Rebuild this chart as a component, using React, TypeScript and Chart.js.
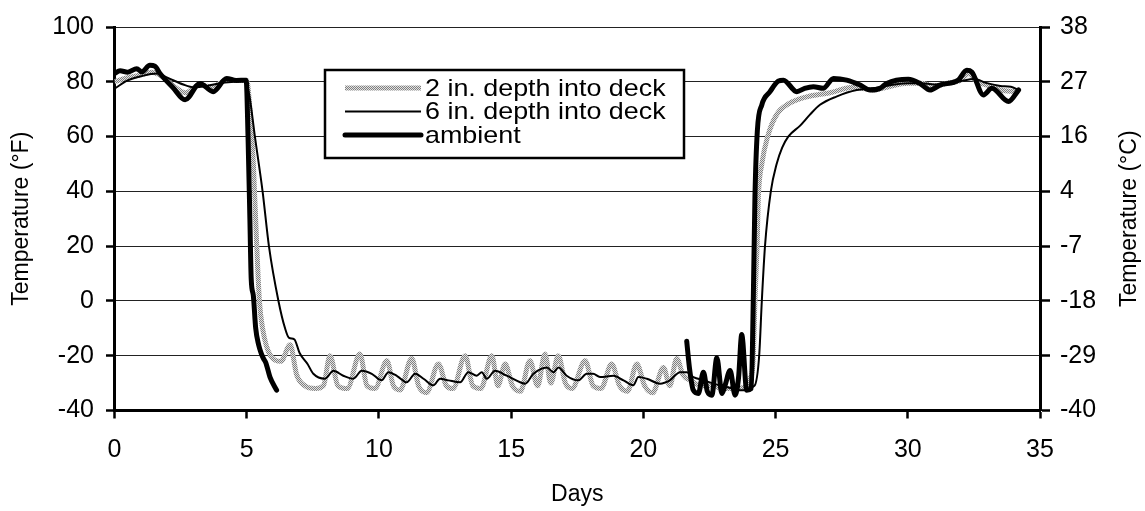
import React, { useEffect, useRef } from "react";
import { Chart, registerables } from "chart.js";

Chart.register(...registerables);

// ---- data (days, °F) ----
const ambientDays = [0, 0.21, 0.5, 0.84, 1.03, 1.34, 1.53, 1.72, 2.2, 2.67, 3.23, 3.73, 4.24, 4.6, 4.98, 5.05, 5.12, 5.17, 5.25, 5.34, 5.45, 5.56, 5.63, 5.72, 5.88, 6.13,
  13,
  21.64, 21.75, 21.89, 22.08, 22.27, 22.42, 22.59, 22.78, 22.97, 23.09, 23.28, 23.47, 23.6, 23.72, 23.91, 24.08, 24.16, 24.22, 24.31, 24.48, 24.79, 25.1, 25.3, 25.8, 26.1, 26.43, 26.8, 27.19, 27.69, 28.2, 28.57, 28.95, 29.2, 30.02, 30.46, 30.84, 31.22, 31.91, 32.23, 32.42, 32.86, 33.18, 33.81, 34.19];
const ambientTemps = [83, 84, 83.5, 84.8, 83.6, 86, 85.7, 83, 78, 73.4, 79.4, 76.4, 81.2, 80.5, 80.6, 60, 30, 8, 2, -10, -16, -19.4, -21, -22.5, -27.8, -32.6,
  null,
  -14.7, -25, -32.6, -33.8, -26, -33, -34.4, -20.7, -33.8, -30.8, -25.4, -34.4, -28, -12.3, -32.6, -32, 2, 38, 62, 71.6, 76.4, 80.2, 80.6, 76.4, 77.6, 78.2, 77.6, 81.2, 80.6, 78.8, 77, 77.6, 79.4, 80.9, 79.4, 77, 78.8, 80.6, 84.2, 83.6, 75.2, 77.6, 72.8, 77];

const depth6Days = [0, 0.5, 1.0, 1.6, 2.0, 2.6, 3.0, 3.5, 4.0, 4.5, 4.95, 5.1, 5.31, 5.6, 5.84, 6.2, 6.45, 6.6, 6.8, 7.0, 7.3, 7.52, 7.96, 8.28, 8.65, 9.03, 9.35, 9.73, 10.1, 10.36, 10.7, 11.05, 11.37, 11.7, 12.06, 12.31, 12.63, 13.07, 13.38, 13.7, 13.89, 14.08, 14.39, 14.83, 15.34, 15.53, 15.84, 16.35, 16.6, 16.79, 17.1, 17.54, 17.86, 18.1, 18.36, 18.87, 19.25, 19.62, 19.81, 20.13, 20.63, 21.0, 21.39, 21.64, 21.89, 22.3, 22.65, 23.15, 23.66, 24.2, 24.38, 24.48, 24.6, 24.82, 25.04, 25.25, 25.48, 25.93, 26.3, 26.68, 27.3, 28.07, 28.7, 29.5, 30.0, 30.5, 31.0, 31.5, 32.0, 32.5, 33.0, 33.5, 33.9, 34.2];
const depth6Temps = [77.5, 80.5, 82, 83, 81.5, 79, 78, 78.5, 79.5, 80, 80.3, 75, 60, 40, 20, 0, -10, -13.5, -14, -19, -23, -26.6, -28.4, -25.5, -27.3, -28.4, -25.5, -26.6, -29, -26, -27.5, -29.7, -26.6, -28.5, -30.8, -28.4, -29, -29.7, -26, -27.3, -26, -28.4, -25.5, -27.3, -29.7, -30.2, -26.6, -24.3, -26, -24.3, -27.3, -29, -26.6, -26.6, -27.8, -27.3, -29, -30.8, -27.8, -28.4, -30.2, -29, -26, -26, -27.8, -29, -30.2, -31.4, -32.6, -31, -20, 0, 20, 40, 50, 56, 60, 64, 68, 71.6, 74.6, 77, 77.6, 79, 79.5, 79.5, 79, 79.5, 80.2, 81, 79.5, 78.5, 78.2, 77];

const depth2Days = [0, 0.5, 1.0, 1.4, 1.8, 2.3, 2.7, 3.2, 3.7, 4.2, 4.7, 5.0, 5.12, 5.25, 5.38, 5.48, 5.6, 5.9, 6.3, 6.64, 6.89, 7.2, 7.6, 7.9, 8.15, 8.45, 8.8, 9.28, 9.55, 9.85, 10.3, 10.55, 10.8, 11.24, 11.5, 11.8, 12.25, 12.55, 12.8, 13.26, 13.55, 13.85, 14.27, 14.5, 14.77, 15.05, 15.35, 15.71, 16.0, 16.28, 16.5, 16.78, 17.05, 17.3, 17.8, 18.1, 18.4, 18.8, 19.1, 19.4, 19.75, 20.05, 20.35, 20.76, 21.0, 21.26, 21.5, 21.8, 22.2, 22.6, 23.0, 23.5, 23.9, 24.05, 24.15, 24.22, 24.3, 24.35, 24.48, 24.7, 25.04, 25.5, 26.18, 27.06, 27.94, 28.7, 29.2, 30.0, 30.5, 31.0, 31.5, 32.0, 32.3, 32.6, 33.0, 33.5, 34.1];
const depth2Temps = [80, 81.5, 82.5, 83.5, 82, 78, 76, 79, 78, 80.5, 80.5, 80.5, 70, 50, 20, 0, -10, -20, -22, -16, -27, -31, -32, -31, -20, -31, -32, -19.4, -31, -32, -21.8, -31, -32.5, -21, -31, -33.5, -23, -31, -32, -20, -31, -32, -20, -31, -23, -31, -33, -21.8, -31, -19.4, -30, -20, -30, -32, -21.8, -31, -32, -23, -31, -33, -23, -31, -33.5, -24.3, -31, -21, -27, -29, -31, -31, -32, -32, -31, -28, -22, 0, 20, 38, 50, 60, 68, 72, 74.5, 76, 78, 77, 78, 79.5, 79.5, 78.5, 79.5, 80.5, 83, 80, 78.8, 77, 76.4];

const seriesLabels = ["2 in. depth into deck", "6 in. depth into deck", "ambient"];
const xTitle = "Days";
const yTitleLeft = "Temperature (°F)";
const yTitleRight = "Temperature (°C)";
const fMin = -40, fMax = 100, fStep = 20;
const dayMin = 0, dayMax = 35, dayStep = 5;

const FONT = "'Liberation Sans', Arial, sans-serif";

function toPoints(xs: number[], ys: (number | null)[]) {
  return xs.map((x, i) => ({ x, y: ys[i] }));
}

function makeStipple(): CanvasPattern | string {
  const c = document.createElement("canvas");
  c.width = 2; c.height = 2;
  const g = c.getContext("2d");
  if (!g) return "#aaa";
  g.fillStyle = "#e2e2e2"; g.fillRect(0, 0, 2, 2);
  g.fillStyle = "#808080"; g.fillRect(0, 0, 1, 1); g.fillRect(1, 1, 1, 1);
  const ctx2 = document.createElement("canvas").getContext("2d")!;
  return ctx2.createPattern(c, "repeat") || "#aaa";
}

export default function App() {
  const ref = useRef<HTMLCanvasElement | null>(null);
  useEffect(() => {
    if (!ref.current) return;
    const stipple = makeStipple();

    const overlay = {
      id: "overlay",
      afterDraw(chart: any) {
        const { ctx, chartArea: ca } = chart;
        ctx.save();
        // legend box
        const bx = ca.left + 210.5, by = ca.top + 43, bw = 359, bh = 88;
        ctx.fillStyle = "#fff";
        ctx.fillRect(bx, by, bw, bh);
        ctx.lineWidth = 2.5;
        ctx.strokeStyle = "#000";
        ctx.strokeRect(bx, by, bw, bh);
        const rows = [by + 18, by + 41.5, by + 65];
        const styles = [
          { c: stipple, w: 5 },
          { c: "#000", w: 2 },
          { c: "#000", w: 5 },
        ];
        rows.forEach((ry, i) => {
          ctx.beginPath();
          ctx.moveTo(bx + 20, ry);
          ctx.lineTo(bx + 96, ry);
          ctx.strokeStyle = styles[i].c as any;
          ctx.lineWidth = styles[i].w;
          ctx.lineCap = i === 2 ? "round" : "butt";
          ctx.stroke();
          ctx.fillStyle = "#000";
          ctx.textBaseline = "middle";
          ctx.textAlign = "left";
          ctx.font = `24px ${FONT}`;
          ctx.save();
          ctx.translate(bx + 100, ry);
          ctx.scale(1.12, 1);
          ctx.fillText(seriesLabels[i], 0, 1);
          ctx.restore();
        });
        // right axis title
        ctx.save();
        ctx.translate(1130, (ca.top + ca.bottom) / 2);
        ctx.rotate(-Math.PI / 2);
        ctx.fillStyle = "#000";
        ctx.font = `23px ${FONT}`;
        ctx.textAlign = "center";
        ctx.textBaseline = "middle";
        ctx.fillText(yTitleRight, 0, 0);
        ctx.restore();
        ctx.restore();
      },
    };

    const chart = new Chart(ref.current, {
      type: "line",
      data: {
        datasets: [
          {
            label: seriesLabels[2],
            data: toPoints(ambientDays, ambientTemps),
            borderColor: "#000",
            borderWidth: 5,
            pointRadius: 0,
            spanGaps: false,
            cubicInterpolationMode: "monotone",
            borderCapStyle: "round",
            borderJoinStyle: "round",
            yAxisID: "y",
          },
          {
            label: seriesLabels[1],
            data: toPoints(depth6Days, depth6Temps),
            borderColor: "#000",
            borderWidth: 2,
            pointRadius: 0,
            cubicInterpolationMode: "monotone",
            yAxisID: "y",
          },
          {
            label: seriesLabels[0],
            data: toPoints(depth2Days, depth2Temps),
            borderColor: stipple as any,
            borderWidth: 5,
            pointRadius: 0,
            cubicInterpolationMode: "monotone",
            yAxisID: "y",
          },
        ],
      },
      options: {
        animation: false,
        responsive: false,
        devicePixelRatio: 1,
        layout: { padding: { top: 21, left: 0, right: 0, bottom: 0 } },
        plugins: { legend: { display: false }, tooltip: { enabled: false } },
        scales: {
          x: {
            type: "linear",
            min: dayMin,
            max: dayMax,
            ticks: { stepSize: dayStep, color: "#000", font: { family: FONT, size: 25 }, padding: 17, maxRotation: 0 },
            grid: { drawOnChartArea: false, drawTicks: true, tickLength: 8, tickWidth: 2.5, tickColor: "#000" },
            border: { display: true, color: "#000", width: 3 },
            title: { display: true, text: xTitle, color: "#000", font: { family: FONT, size: 23 }, padding: { top: 0, bottom: 3 } },
            afterFit: (s: any) => { s.height = 100.5; },
          },
          y: {
            type: "linear",
            position: "left",
            min: fMin,
            max: fMax,
            ticks: { stepSize: fStep, color: "#000", font: { family: FONT, size: 25 }, padding: 12 },
            grid: { color: "#222", lineWidth: 1, drawTicks: true, tickLength: 8.5, tickWidth: 2.5, tickColor: "#000" },
            border: { display: true, color: "#000", width: 3 },
            title: { display: true, text: yTitleLeft, color: "#000", font: { family: FONT, size: 23 }, padding: { top: 8, bottom: 0 } },
            afterFit: (s: any) => { s.width = 114.5; },
          },
          y1: {
            type: "linear",
            position: "right",
            min: fMin,
            max: fMax,
            ticks: {
              stepSize: fStep,
              color: "#000",
              font: { family: FONT, size: 25 },
              padding: 10,
              callback: (v: any) => String(Math.round(((Number(v) - 32) * 5) / 9)),
            },
            grid: { drawOnChartArea: false, drawTicks: true, tickLength: 10, tickWidth: 2.5, tickColor: "#000" },
            border: { display: true, color: "#000", width: 3 },
            afterFit: (s: any) => { s.width = 105; },
          },
        },
      },
      plugins: [overlay],
    } as any);
    return () => chart.destroy();
  }, []);

  return (
    <div style={{ position: "fixed", left: 0, top: 0, width: 1145, height: 511, background: "#fff" }}>
      <canvas ref={ref} width={1145} height={511} style={{ display: "block" }} />
    </div>
  );
}
